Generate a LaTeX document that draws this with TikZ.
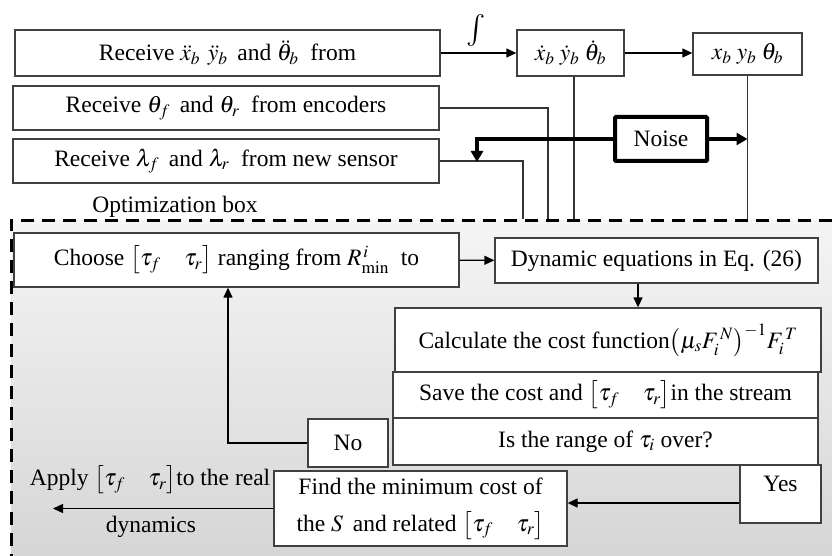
\documentclass[tikz,border=0pt]{standalone}
\usepackage{mathptmx}
\usepackage{fontspec}
\setmainfont{Liberation Serif}
\usetikzlibrary{arrows.meta,positioning}

\tikzset{
  box/.style={draw=black!75, line width=1.3pt, fill=white, inner sep=2pt, align=center},
  arr/.style={-{Triangle[length=10pt,width=9pt]}, line width=1.3pt},
  link/.style={line width=1.3pt, draw=black!80},
  noisebox/.style={draw, line width=4pt, fill=white, rounded corners=1pt},
  noisearr/.style={-{Triangle[length=11pt,width=12pt]}, line width=4pt},
  optbox/.style={draw, line width=2.6pt, dash pattern=on 13pt off 8pt, top color=black!4, bottom color=black!17},
}

\begin{document}
\begin{tikzpicture}[x=1pt, y=-1pt, font=\fontsize{23.5}{28}\selectfont]
  \useasboundingbox (0,0) rectangle (832,556);
  \clip (0,0) rectangle (832,556);

  % Optimization box (dashed, shaded)
  \node[optbox, anchor=north west, minimum width=850pt, minimum height=360pt] (opt) at (10,219) {};
  \node (optlabel) at (175,207) {Optimization box};

  % Sensor inputs
  \node[box, minimum width=425pt, minimum height=46pt] (acc) at (227.5,53) {Receive $\ddot{x}_b\;\,\ddot{y}_b$\, and $\ddot{\theta}_b$\ \ from};
  \node[box, minimum width=426pt, minimum height=44pt] (enc) at (226,108) {Receive $\theta_f$\, and $\theta_r$\ \ from encoders};
  \node[box, minimum width=426pt, minimum height=44pt] (sens) at (226,161) {Receive $\lambda_f$\, and $\lambda_r$\ \ from new sensor};

  % Integration chain
  \node[font=\fontsize{32}{32}\selectfont, inner sep=0pt] (int) at (476,30) {$\int$};
  \node[box, minimum width=107pt, minimum height=46pt] (vel) at (570.5,53) {$\dot{x}_b\;\dot{y}_b\;\dot{\theta}_b$};
  \node[box, minimum width=109pt, minimum height=42pt] (pos) at (747.5,54) {$x_b\;y_b\;\theta_b$};
  \node[noisebox, minimum width=92pt, minimum height=44pt] (noise) at (661,139) {Noise};

  % Entry points on the optimization box
  \coordinate (encin) at (548,219);
  \coordinate (sensin) at (523,219);
  \coordinate (noisein) at (477,162);

  \draw[arr] (acc) -- (vel);
  \draw[arr] (vel) -- (vel -| pos.west);
  \draw[link] (enc.east) -| (encin);
  \draw[link] (sens.east) -| (sensin);
  \draw[link] ([xshift=3.5pt]vel.south) -- ([xshift=3.5pt]vel.south |- opt.north);
  \draw[link] (pos.south) -- (pos.south |- opt.north);
  \draw[noisearr] (noise.east) -- (noise.east -| pos.south);
  \draw[noisearr] (noise.west) -| (noisein);

  % Optimization steps
  \node[box, minimum width=445pt, minimum height=54pt] (choose) at (236.5,260) {Choose $\bigl[\tau_f\quad\tau_r\bigr]$ ranging from $R^{\,i}_{\min}$\ \ to};
  \node[box, minimum width=323pt, minimum height=45pt] (dyneq) at (656.5,260.5) {Dynamic equations in Eq. (26)};
  \node[box, minimum width=426pt, minimum height=64pt] (cost) at (608,340) {Calculate the cost function$\bigl(\mu_s F_i^{\,N}\bigr)^{-1} F_i^{\,T}$};
  \node[box, minimum width=425pt, minimum height=46pt] (save) at (605.5,395) {Save the cost and $\bigl[\tau_f\quad\tau_r\bigr]$in the stream};
  \node[box, minimum width=425pt, minimum height=47pt] (range) at (605.5,441.5) {Is the range of $\tau_i$\ over?};
  \node[box, minimum width=80pt, minimum height=48pt] (no) at (348,443) {No};
  \node[box, minimum width=81pt, minimum height=58pt] (yes) at (780.5,494) {Yes\\[-8pt]~};
  \node[box, minimum width=293pt, minimum height=75pt] (find) at (420.5,508.5) {Find the minimum cost of\\[9pt]the $S$\, and related $\bigl[\tau_f\quad\tau_r\bigr]$};

  \coordinate (yesout) at ([yshift=-9pt]yes.west);
  \coordinate (applyend) at (53,507);
  \coordinate (loopup) at ([xshift=-8.5pt]choose.south);

  \draw[arr] (choose) -- (dyneq);
  \draw[arr] ([xshift=-18.5pt]dyneq.south) -- ([xshift=-18.5pt]dyneq.south |- cost.north);
  \draw[arr] (no.west) -| (loopup);
  \draw[arr] (yesout) -- (yesout -| find.east);
  \draw[arr] (find.west) -- (find.west -| applyend);

  % Output to the real dynamics
  \node (apply) at (150,480) {Apply $\bigl[\tau_f\quad\tau_r\bigr]$to the real};
  \node (dyn) at (151,527) {dynamics};
\end{tikzpicture}
\end{document}
